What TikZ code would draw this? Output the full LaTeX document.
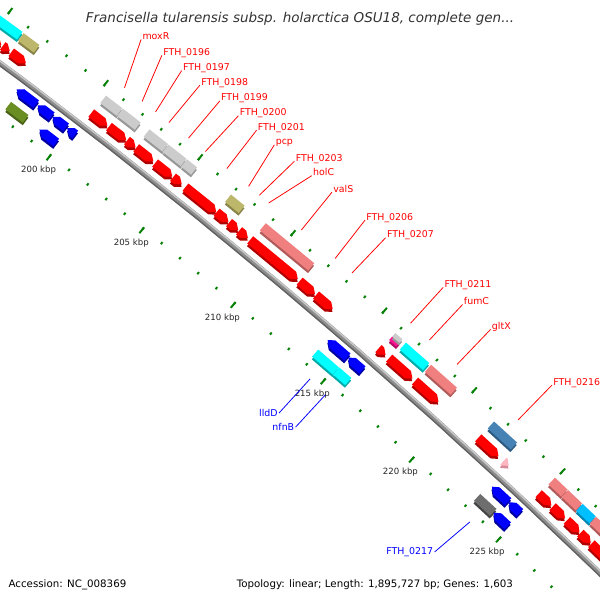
\documentclass[tikz,border=0pt]{standalone}
\usepackage{fontspec}
\setmainfont{DejaVu Sans}
\definecolor{redtop}{HTML}{FF0000}
\definecolor{redside}{HTML}{B00000}
\definecolor{bluetop}{HTML}{0000FF}
\definecolor{blueside}{HTML}{0000A0}
\definecolor{graytop}{HTML}{CCCCCC}
\definecolor{grayside}{HTML}{989898}
\definecolor{cyantop}{HTML}{00FFFF}
\definecolor{cyanside}{HTML}{00ABAB}
\definecolor{khakitop}{HTML}{BDB76B}
\definecolor{khakiside}{HTML}{888349}
\definecolor{coraltop}{HTML}{F08080}
\definecolor{coralside}{HTML}{B05A5A}
\definecolor{steeltop}{HTML}{4682B4}
\definecolor{steelside}{HTML}{2D5A80}
\definecolor{olivetop}{HTML}{6B8E23}
\definecolor{oliveside}{HTML}{4A6317}
\definecolor{darktop}{HTML}{6E6E6E}
\definecolor{darkside}{HTML}{444444}
\definecolor{pinktop}{HTML}{FF1493}
\definecolor{pinkside}{HTML}{B30E68}
\definecolor{skytop}{HTML}{00BFFF}
\definecolor{skyside}{HTML}{0084B0}
\definecolor{rosetop}{HTML}{FFB6C1}
\definecolor{roseside}{HTML}{D98A98}
\definecolor{rulergreen}{HTML}{078207}
\tikzset{
    rulerdot/.style={rulergreen, line width=1.4pt},
    kblabel/.style={font=\fontsize{6.1}{7}\selectfont, text=black!85, inner sep=0pt},
    fwdlabel/.style={font=\fontsize{6.7}{8}\selectfont, text=red, inner sep=0.8pt, anchor=base west},
    revlabel/.style={font=\fontsize{6.7}{8}\selectfont, text=blue, inner sep=0.8pt, anchor=east},
    fwdline/.style={red, line width=0.55pt},
    revline/.style={blue, line width=0.55pt},
    infotext/.style={font=\fontsize{7.3}{8}\selectfont, inner sep=0pt}
}
\def\rb{6098}
\def\pxkb{23.79}
\def\tfa{14.7}
\def\tfb{32.8}
\def\tra{-12}
\def\trb{-30}
\newcommand{\genescope}[2]{%
    \pgfmathsetmacro{\ga}{ang(#1)}%
    \begin{scope}[shift={(\ga:{\rb+(#2)})}, rotate={-(\ga+90)}]}
\newcommand{\fwdgene}[4]{%
    \pgfmathsetmacro{\gl}{(#3-#2)*\pxkb}%
    \pgfmathsetmacro{\gh}{min(6,\gl)}%
    \genescope{#2}{#4}
        \fill[#1side, shift={(1.5,2.2)}] (0,-4.7) -- ({\gl-\gh},-4.7) -- (\gl,0) -- ({\gl-\gh},4.7) -- (0,4.7) -- cycle;
        \fill[#1top] (0,-4.7) -- ({\gl-\gh},-4.7) -- (\gl,0) -- ({\gl-\gh},4.7) -- (0,4.7) -- cycle;
    \end{scope}}
\newcommand{\revgene}[4]{%
    \pgfmathsetmacro{\gl}{(#3-#2)*\pxkb}%
    \pgfmathsetmacro{\gh}{min(6,\gl)}%
    \genescope{#2}{#4}
        \fill[#1side, shift={(1.5,2.2)}] (0,0) -- (\gh,-4.7) -- (\gl,-4.7) -- (\gl,4.7) -- (\gh,4.7) -- cycle;
        \fill[#1top] (0,0) -- (\gh,-4.7) -- (\gl,-4.7) -- (\gl,4.7) -- (\gh,4.7) -- cycle;
    \end{scope}}
\newcommand{\boxgene}[5][4.7]{%
    \pgfmathsetmacro{\gl}{(#4-#3)*\pxkb}%
    \genescope{#3}{#5}
        \fill[#2side, shift={(1.5,2.2)}] (0,-#1) rectangle (\gl,#1);
        \fill[#2top] (0,-#1) rectangle (\gl,#1);
    \end{scope}}

\begin{document}
\begin{tikzpicture}[x=0.025cm, y=-0.025cm,
    declare function={ang(\x)=-52.42+0.2236*(\x-200);}]
\useasboundingbox (0,0) rectangle (600,600);
\fill[white] (0,0) rectangle (600,600);

\begin{scope}
\clip (0,0) rectangle (600,600);
\begin{scope}[shift={(-3641.7,4953.1)}]
    % backbone
    \draw[line width=4pt, color=black!45] plot[domain=193:232, samples=50] ({ang(\x)}:{\rb-0.7});
    \draw[line width=1.1pt, color=black!22] plot[domain=193:232, samples=50] ({ang(\x)}:{\rb+1.1});
    \draw[line width=0.9pt, color=black!62] plot[domain=193:232, samples=50] ({ang(\x)}:{\rb-2.8});

    % ruler
    \foreach \k in {194,...,230} {
        \draw[rulerdot] ({ang(\k)}:{\rb+43.6}) -- ({ang(\k)}:{\rb+46.3});
        \draw[rulerdot] ({ang(\k)}:{\rb-42.6}) -- ({ang(\k)}:{\rb-45.3});
    }
    \foreach \k in {195,200,...,230} {
        \draw[rulerdot] ({ang(\k)}:{\rb+43.6}) -- ({ang(\k)}:{\rb+51});
        \draw[rulerdot] ({ang(\k)}:{\rb-42.6}) -- ({ang(\k)}:{\rb-50});
    }
    \foreach \k in {200,205,...,225}
        \node[kblabel] (kb\k) at ({ang(\k)}:{\rb-63}) {\k\ kbp};

    % forward genes
    \fwdgene{red}{194.5}{195.55}{\tfa}
    \fwdgene{red}{195.62}{195.99}{\tfa}
    \fwdgene{red}{196.06}{196.83}{\tfa}
    \fwdgene{red}{200.28}{201.14}{\tfa}
    \fwdgene{red}{201.21}{202.13}{\tfa}
    \fwdgene{red}{202.17}{202.63}{\tfa}
    \fwdgene{red}{202.66}{203.58}{\tfa}
    \fwdgene{red}{203.68}{204.6}{\tfa}
    \fwdgene{red}{204.64}{205.11}{\tfa}
    \fwdgene{red}{205.3}{206.96}{\tfa}
    \fwdgene{red}{206.98}{207.62}{\tfa}
    \fwdgene{red}{207.66}{208.16}{\tfa}
    \fwdgene{red}{208.2}{208.68}{\tfa}
    \fwdgene{red}{208.8}{211.4}{\tfa}
    \fwdgene{red}{211.5}{212.35}{\tfa}
    \fwdgene{red}{212.4}{213.32}{\tfa}
    \fwdgene{red}{215.85}{216.25}{\tfa}
    \fwdgene{red}{216.45}{217.75}{\tfa}
    \fwdgene{red}{217.9}{219.22}{\tfa}
    \fwdgene{red}{221.46}{222.61}{\tfa}
    \fwdgene{rose}{222.9}{223.2}{\tfa}
    \fwdgene{red}{224.91}{225.64}{\tfa}
    \fwdgene{red}{225.71}{226.43}{\tfa}
    \fwdgene{red}{226.54}{227.27}{\tfa}
    \fwdgene{red}{227.31}{227.92}{\tfa}
    \fwdgene{red}{227.96}{229.2}{\tfa}

    \boxgene{cyan}{193.5}{195.95}{\tfb}
    \boxgene{khaki}{196.0}{196.83}{\tfb}
    \boxgene{gray}{200.32}{201.19}{\tfb}
    \boxgene{gray}{201.21}{202.15}{\tfb}
    \boxgene{gray}{202.62}{203.62}{\tfb}
    \boxgene{gray}{203.64}{204.6}{\tfb}
    \boxgene{gray}{204.62}{205.16}{\tfb}
    \boxgene{khaki}{206.98}{207.72}{\tfb}
    \boxgene{coral}{208.86}{211.5}{\tfb}
    \boxgene[2.35]{pink}{215.95}{216.35}{\tfb-2.35}
    \boxgene[2.35]{gray}{215.95}{216.35}{\tfb+2.35}
    \boxgene{cyan}{216.55}{217.85}{\tfb}
    \boxgene{coral}{217.95}{219.4}{\tfb}
    \boxgene{steel}{221.49}{222.8}{\tfb}
    \boxgene{coral}{224.95}{225.68}{\tfb}
    \boxgene{coral}{225.7}{226.52}{\tfb}
    \boxgene{sky}{226.54}{227.3}{\tfb}
    \boxgene{coral}{227.32}{228.6}{\tfb}

    % reverse genes
    \revgene{blue}{197.18}{198.21}{\tra}
    \revgene{blue}{198.29}{199.04}{\tra}
    \revgene{blue}{199.08}{199.8}{\tra}
    \revgene{blue}{199.86}{200.29}{\tra}
    \revgene{blue}{214.0}{215.1}{\tra}
    \revgene{blue}{215.14}{215.93}{\tra}
    \revgene{blue}{223.27}{224.2}{\tra}
    \revgene{blue}{224.24}{224.88}{\tra}

    \boxgene{olive}{197.31}{198.23}{\trb}
    \revgene{blue}{198.97}{199.86}{\trb}
    \boxgene{cyan}{213.96}{215.1}{\trb}
    \boxgene{cyan}{215.12}{215.8}{\trb}
    \boxgene{dark}{223.12}{224.05}{\trb}
    \revgene{blue}{224.07}{224.88}{\trb}

    % labels
    \coordinate (moxR-g) at ({ang(200.73)}:{\rb+55});
    \node[fwdlabel] (moxR) at ({ang(200.05)}:{\rb+103.5}) {moxR};
    \draw[fwdline] (moxR.base west) -- (moxR-g);
    \coordinate (f196-g) at ({ang(201.66)}:{\rb+55});
    \node[fwdlabel] (f196) at ({ang(201.13)}:{\rb+103.5}) {FTH\_0196};
    \draw[fwdline] (f196.base west) -- (f196-g);
    \coordinate (f197-g) at ({ang(202.37)}:{\rb+55});
    \node[fwdlabel] (f197) at ({ang(202.16)}:{\rb+103.5}) {FTH\_0197};
    \draw[fwdline] (f197.base west) -- (f197-g);
    \coordinate (f198-g) at ({ang(203.08)}:{\rb+55});
    \node[fwdlabel] (f198) at ({ang(203.13)}:{\rb+103.5}) {FTH\_0198};
    \draw[fwdline] (f198.base west) -- (f198-g);
    \coordinate (f199-g) at ({ang(204.12)}:{\rb+55});
    \node[fwdlabel] (f199) at ({ang(204.18)}:{\rb+103.5}) {FTH\_0199};
    \draw[fwdline] (f199.base west) -- (f199-g);
    \coordinate (f200-g) at ({ang(205.02)}:{\rb+55});
    \node[fwdlabel] (f200) at ({ang(205.16)}:{\rb+103.5}) {FTH\_0200};
    \draw[fwdline] (f200.base west) -- (f200-g);
    \coordinate (f201-g) at ({ang(206.16)}:{\rb+55});
    \node[fwdlabel] (f201) at ({ang(206.12)}:{\rb+103.5}) {FTH\_0201};
    \draw[fwdline] (f201.base west) -- (f201-g);
    \coordinate (pcp-g) at ({ang(207.33)}:{\rb+55});
    \node[fwdlabel] (pcp) at ({ang(207.07)}:{\rb+103.5}) {pcp};
    \draw[fwdline] (pcp.base west) -- (pcp-g);
    \coordinate (f203-g) at ({ang(207.91)}:{\rb+55});
    \node[fwdlabel] (f203) at ({ang(208.14)}:{\rb+103.5}) {FTH\_0203};
    \draw[fwdline] (f203.base west) -- (f203-g);
    \coordinate (holC-g) at ({ang(208.42)}:{\rb+55});
    \node[fwdlabel] (holC) at ({ang(209.07)}:{\rb+103.5}) {holC};
    \draw[fwdline] (holC.base west) -- (holC-g);
    \coordinate (valS-g) at ({ang(210.18)}:{\rb+55});
    \node[fwdlabel] (valS) at ({ang(210.15)}:{\rb+103.5}) {valS};
    \draw[fwdline] (valS.base west) -- (valS-g);
    \coordinate (f206-g) at ({ang(212.02)}:{\rb+55});
    \node[fwdlabel] (f206) at ({ang(211.94)}:{\rb+103.5}) {FTH\_0206};
    \draw[fwdline] (f206.base west) -- (f206-g);
    \coordinate (f207-g) at ({ang(212.95)}:{\rb+55});
    \node[fwdlabel] (f207) at ({ang(213.06)}:{\rb+103.5}) {FTH\_0207};
    \draw[fwdline] (f207.base west) -- (f207-g);
    \coordinate (f211-g) at ({ang(216.16)}:{\rb+55});
    \node[fwdlabel] (f211) at ({ang(216.2)}:{\rb+103.5}) {FTH\_0211};
    \draw[fwdline] (f211.base west) -- (f211-g);
    \coordinate (fumC-g) at ({ang(217.21)}:{\rb+55});
    \node[fwdlabel] (fumC) at ({ang(217.27)}:{\rb+103.5}) {fumC};
    \draw[fwdline] (fumC.base west) -- (fumC-g);
    \coordinate (gltX-g) at ({ang(218.75)}:{\rb+55});
    \node[fwdlabel] (gltX) at ({ang(218.82)}:{\rb+103.5}) {gltX};
    \draw[fwdline] (gltX.base west) -- (gltX-g);
    \coordinate (f216-g) at ({ang(222.18)}:{\rb+55});
    \node[fwdlabel] (f216) at ({ang(222.24)}:{\rb+103.5}) {FTH\_0216};
    \draw[fwdline] (f216.base west) -- (f216-g);

    \coordinate (lldD-g) at ({ang(214.51)}:{\rb-53});
    \node[revlabel] (lldD) at ({ang(214.46)}:{\rb-99}) {lldD};
    \draw[revline] (lldD.east) -- (lldD-g);
    \coordinate (nfnB-g) at ({ang(215.44)}:{\rb-55});
    \node[revlabel] (nfnB) at ({ang(215.39)}:{\rb-99}) {nfnB};
    \draw[revline] (nfnB.east) -- (nfnB-g);
    \coordinate (f217-g) at ({ang(223.6)}:{\rb-53});
    \node[revlabel] (f217) at ({ang(223.37)}:{\rb-99}) {FTH\_0217};
    \draw[revline] (f217.east) -- (f217-g);
\end{scope}
\end{scope}

\node[font=\fontsize{9.6}{11}\selectfont\itshape, text=black!80, inner sep=0pt, anchor=base] (title)
    at (300,22.5) {Francisella tularensis subsp. holarctica OSU18, complete gen...};
\node[infotext, anchor=base west] (acc) at (8.3,587.3) {Accession: NC\_008369};
\node[infotext, anchor=base east] (topo) at (513.3,587.3) {Topology: linear; Length: 1,895,727 bp; Genes: 1,603};
\end{tikzpicture}
\end{document}
